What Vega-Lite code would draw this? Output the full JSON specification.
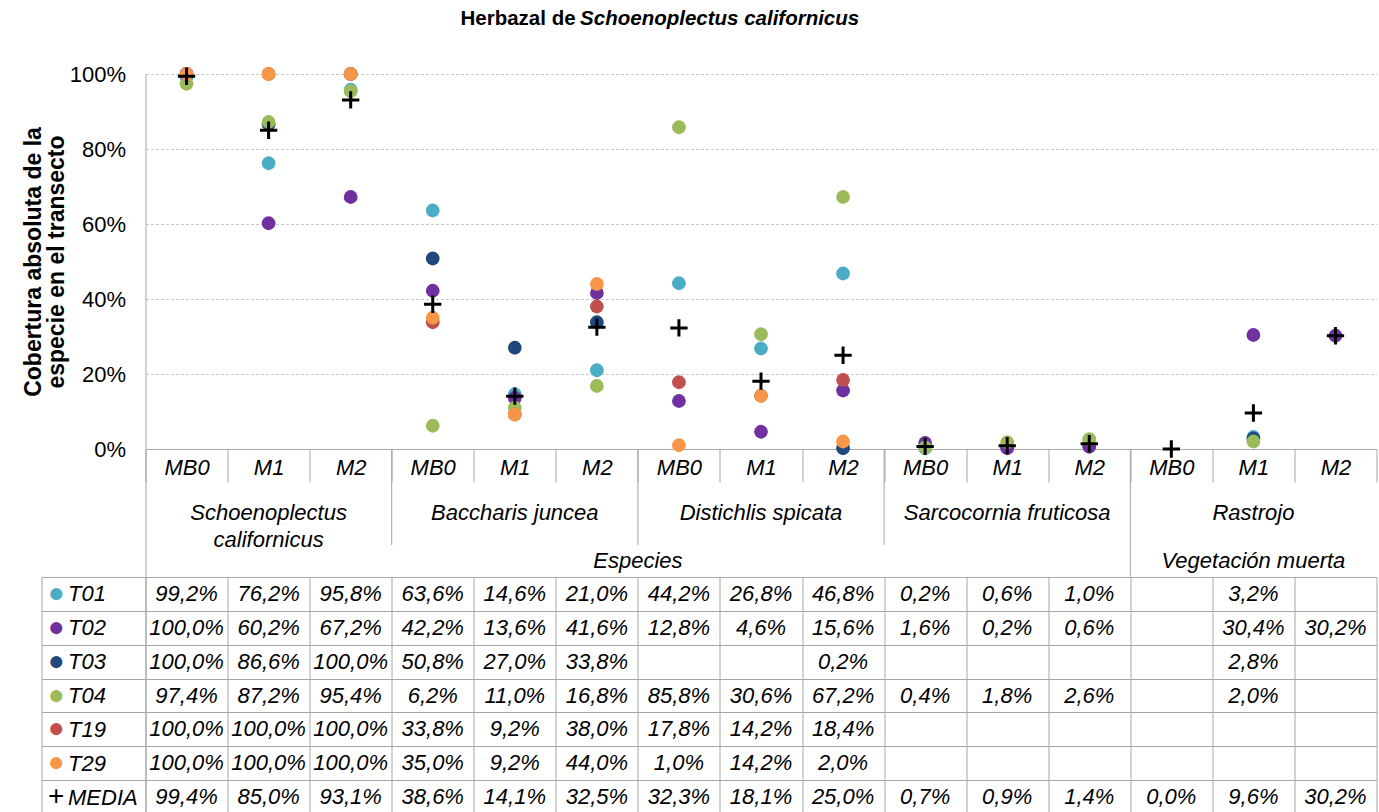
{
  "$schema": "https://vega.github.io/schema/vega-lite/v6.json",
  "usermeta": {"embedOptions": {"actions": false}},
  "padding": {"left": 21.5, "top": 9, "right": 0, "bottom": 0},
  "background": "white",
  "spacing": 0,
  "bounds": "flush",
  "config": {
    "font": "Liberation Sans",
    "view": {"stroke": null},
    "locale": {"number": {"decimal": ",", "thousands": ".", "grouping": [3], "currency": ["", " €"]}},
    "axis": {"domainColor": "#A6A6A6", "tickColor": "#A6A6A6", "gridColor": "#A6A6A6", "labelColor": "black", "labelFont": "Liberation Sans", "titleFont": "Liberation Sans"}
  },
  "datasets": {
    "obs": [
      {"cat": "SC|MB0", "serie": "T01", "valor": 0.992}, {"cat": "SC|M1", "serie": "T01", "valor": 0.762}, {"cat": "SC|M2", "serie": "T01", "valor": 0.958},
      {"cat": "BJ|MB0", "serie": "T01", "valor": 0.636}, {"cat": "BJ|M1", "serie": "T01", "valor": 0.146}, {"cat": "BJ|M2", "serie": "T01", "valor": 0.210},
      {"cat": "DS|MB0", "serie": "T01", "valor": 0.442}, {"cat": "DS|M1", "serie": "T01", "valor": 0.268}, {"cat": "DS|M2", "serie": "T01", "valor": 0.468},
      {"cat": "SF|MB0", "serie": "T01", "valor": 0.002}, {"cat": "SF|M1", "serie": "T01", "valor": 0.006}, {"cat": "SF|M2", "serie": "T01", "valor": 0.010},
      {"cat": "R|M1", "serie": "T01", "valor": 0.032},

      {"cat": "SC|MB0", "serie": "T02", "valor": 1.0}, {"cat": "SC|M1", "serie": "T02", "valor": 0.602}, {"cat": "SC|M2", "serie": "T02", "valor": 0.672},
      {"cat": "BJ|MB0", "serie": "T02", "valor": 0.422}, {"cat": "BJ|M1", "serie": "T02", "valor": 0.136}, {"cat": "BJ|M2", "serie": "T02", "valor": 0.416},
      {"cat": "DS|MB0", "serie": "T02", "valor": 0.128}, {"cat": "DS|M1", "serie": "T02", "valor": 0.046}, {"cat": "DS|M2", "serie": "T02", "valor": 0.156},
      {"cat": "SF|MB0", "serie": "T02", "valor": 0.016}, {"cat": "SF|M1", "serie": "T02", "valor": 0.002}, {"cat": "SF|M2", "serie": "T02", "valor": 0.006},
      {"cat": "R|M1", "serie": "T02", "valor": 0.304}, {"cat": "R|M2", "serie": "T02", "valor": 0.302},

      {"cat": "SC|MB0", "serie": "T03", "valor": 1.0}, {"cat": "SC|M1", "serie": "T03", "valor": 0.866}, {"cat": "SC|M2", "serie": "T03", "valor": 1.0},
      {"cat": "BJ|MB0", "serie": "T03", "valor": 0.508}, {"cat": "BJ|M1", "serie": "T03", "valor": 0.270}, {"cat": "BJ|M2", "serie": "T03", "valor": 0.338},
      {"cat": "DS|M2", "serie": "T03", "valor": 0.002},
      {"cat": "R|M1", "serie": "T03", "valor": 0.028},

      {"cat": "SC|MB0", "serie": "T04", "valor": 0.974}, {"cat": "SC|M1", "serie": "T04", "valor": 0.872}, {"cat": "SC|M2", "serie": "T04", "valor": 0.954},
      {"cat": "BJ|MB0", "serie": "T04", "valor": 0.062}, {"cat": "BJ|M1", "serie": "T04", "valor": 0.110}, {"cat": "BJ|M2", "serie": "T04", "valor": 0.168},
      {"cat": "DS|MB0", "serie": "T04", "valor": 0.858}, {"cat": "DS|M1", "serie": "T04", "valor": 0.306}, {"cat": "DS|M2", "serie": "T04", "valor": 0.672},
      {"cat": "SF|MB0", "serie": "T04", "valor": 0.004}, {"cat": "SF|M1", "serie": "T04", "valor": 0.018}, {"cat": "SF|M2", "serie": "T04", "valor": 0.026},
      {"cat": "R|M1", "serie": "T04", "valor": 0.020},

      {"cat": "SC|MB0", "serie": "T19", "valor": 1.0}, {"cat": "SC|M1", "serie": "T19", "valor": 1.0}, {"cat": "SC|M2", "serie": "T19", "valor": 1.0},
      {"cat": "BJ|MB0", "serie": "T19", "valor": 0.338}, {"cat": "BJ|M1", "serie": "T19", "valor": 0.092}, {"cat": "BJ|M2", "serie": "T19", "valor": 0.380},
      {"cat": "DS|MB0", "serie": "T19", "valor": 0.178}, {"cat": "DS|M1", "serie": "T19", "valor": 0.142}, {"cat": "DS|M2", "serie": "T19", "valor": 0.184},

      {"cat": "SC|MB0", "serie": "T29", "valor": 1.0}, {"cat": "SC|M1", "serie": "T29", "valor": 1.0}, {"cat": "SC|M2", "serie": "T29", "valor": 1.0},
      {"cat": "BJ|MB0", "serie": "T29", "valor": 0.350}, {"cat": "BJ|M1", "serie": "T29", "valor": 0.092}, {"cat": "BJ|M2", "serie": "T29", "valor": 0.440},
      {"cat": "DS|MB0", "serie": "T29", "valor": 0.010}, {"cat": "DS|M1", "serie": "T29", "valor": 0.142}, {"cat": "DS|M2", "serie": "T29", "valor": 0.020},

      {"cat": "SC|MB0", "serie": "MEDIA", "valor": 0.994}, {"cat": "SC|M1", "serie": "MEDIA", "valor": 0.850}, {"cat": "SC|M2", "serie": "MEDIA", "valor": 0.931},
      {"cat": "BJ|MB0", "serie": "MEDIA", "valor": 0.386}, {"cat": "BJ|M1", "serie": "MEDIA", "valor": 0.141}, {"cat": "BJ|M2", "serie": "MEDIA", "valor": 0.325},
      {"cat": "DS|MB0", "serie": "MEDIA", "valor": 0.323}, {"cat": "DS|M1", "serie": "MEDIA", "valor": 0.181}, {"cat": "DS|M2", "serie": "MEDIA", "valor": 0.250},
      {"cat": "SF|MB0", "serie": "MEDIA", "valor": 0.007}, {"cat": "SF|M1", "serie": "MEDIA", "valor": 0.009}, {"cat": "SF|M2", "serie": "MEDIA", "valor": 0.014},
      {"cat": "R|MB0", "serie": "MEDIA", "valor": 0.0}, {"cat": "R|M1", "serie": "MEDIA", "valor": 0.096}, {"cat": "R|M2", "serie": "MEDIA", "valor": 0.302}
    ],
    "grupos": [
      {"etiqueta": "Schoenoplectus\ncalifornicus", "cat": "SC|M1", "nivel": "n3"},
      {"etiqueta": "Baccharis juncea", "cat": "BJ|M1", "nivel": "n3"},
      {"etiqueta": "Distichlis spicata", "cat": "DS|M1", "nivel": "n3"},
      {"etiqueta": "Sarcocornia fruticosa", "cat": "SF|M1", "nivel": "n3"},
      {"etiqueta": "Rastrojo", "cat": "R|M1", "nivel": "n3"},
      {"etiqueta": "Especies", "cat": "DS|MB0", "nivel": "n4"},
      {"etiqueta": "Vegetación muerta", "cat": "R|M1", "nivel": "n4"}
    ],
    "separadores": [
      {"cat": "BJ|MB0", "desde": "n1", "hasta": "n3"},
      {"cat": "DS|MB0", "desde": "n1", "hasta": "n3"},
      {"cat": "SF|MB0", "desde": "n1", "hasta": "n3"},
      {"cat": "R|MB0", "desde": "n1", "hasta": "n4"}
    ]
  },
  "vconcat": [
    {
      "width": 1231,
      "height": 375,
      "title": {
        "text": "Herbazal de",
        "subtitle": "\u200b\u00a0\u00a0\u00a0\u00a0\u00a0\u00a0\u00a0\u00a0\u00a0\u00a0\u00a0\u00a0\u00a0\u00a0\u00a0\u00a0\u00a0\u00a0\u00a0\u00a0\u00a0Schoenoplectus californicus",
        "anchor": "start",
        "frame": "group",
        "dx": 315,
        "font": "Liberation Sans",
        "fontSize": 20.5,
        "fontWeight": "bold",
        "color": "black",
        "subtitleFont": "Liberation Sans",
        "subtitleFontSize": 20.5,
        "subtitleFontWeight": "bold",
        "subtitleFontStyle": "italic",
        "subtitleColor": "black",
        "subtitlePadding": -20.5,
        "offset": 32
      },
      "data": {"name": "obs"},
      "layer": [
        {
          "transform": [{"filter": "datum.serie != 'MEDIA'"}],
          "mark": {"type": "circle", "size": 190, "opacity": 1},
          "encoding": {
            "x": {
              "field": "cat", "type": "nominal",
              "scale": {"type": "band", "domain": ["SC|MB0","SC|M1","SC|M2","BJ|MB0","BJ|M1","BJ|M2","DS|MB0","DS|M1","DS|M2","SF|MB0","SF|M1","SF|M2","R|MB0","R|M1","R|M2"], "paddingInner": 0, "paddingOuter": 0},
              "axis": {"title": null, "labelExpr": "split(datum.value, '|')[1]", "tickBand": "extent", "ticks": true, "tickSize": 33, "labelAngle": 0, "labelFontSize": 22, "labelFontStyle": "italic", "labelBaseline": "middle", "labelPadding": -15, "grid": false, "domain": true}
            },
            "y": {
              "field": "valor", "type": "quantitative",
              "scale": {"domain": [0, 1]},
              "axis": {"title": ["Cobertura absoluta de la", "especie en el transecto"], "titleFontSize": 23, "titleFontWeight": "bold", "titleColor": "black", "titleLineHeight": 23, "titlePadding": 1, "format": ".0%", "values": [0, 0.2, 0.4, 0.6, 0.8, 1], "labelFontSize": 22, "labelPadding": 20, "ticks": false, "grid": true, "gridDash": [3, 2], "gridColor": "#C8C8C8", "domain": true}
            },
            "color": {
              "field": "serie", "type": "nominal",
              "scale": {"domain": ["T01","T02","T03","T04","T19","T29"], "range": ["#4BACC6","#7030A0","#1F497D","#9BBB59","#C0504D","#F79646"]},
              "legend": null
            }
          }
        },
        {
          "transform": [{"filter": "datum.serie == 'MEDIA'"}],
          "mark": {"type": "point", "shape": "M-1,0L1,0M0,-1L0,1", "filled": false, "stroke": "black", "strokeWidth": 3, "size": 300, "opacity": 1},
          "encoding": {
            "x": {"field": "cat", "type": "nominal"},
            "y": {"field": "valor", "type": "quantitative"}
          }
        }
      ]
    },
    {
      "width": 1231,
      "height": 128,
      "layer": [
        {
          "data": {"name": "separadores"},
          "mark": {"type": "rule", "color": "#A6A6A6", "strokeWidth": 1},
          "encoding": {
            "x": {"field": "cat", "type": "nominal", "bandPosition": 0,
                  "scale": {"type": "band", "domain": ["SC|MB0","SC|M1","SC|M2","BJ|MB0","BJ|M1","BJ|M2","DS|MB0","DS|M1","DS|M2","SF|MB0","SF|M1","SF|M2","R|MB0","R|M1","R|M2"], "paddingInner": 0, "paddingOuter": 0},
                  "axis": null},
            "y": {"field": "desde", "type": "nominal", "bandPosition": 0,
                  "scale": {"type": "band", "domain": ["n1","n2","n3","n4"], "paddingInner": 0, "paddingOuter": 0},
                  "axis": {"title": null, "labels": false, "ticks": false, "grid": false, "domain": true}},
            "y2": {"field": "hasta", "bandPosition": 1}
          }
        },
        {
          "data": {"name": "grupos"},
          "transform": [{"filter": "datum.nivel == 'n3'"}],
          "mark": {"type": "text", "fontSize": 22, "fontStyle": "italic", "color": "black", "lineBreak": "\n", "lineHeight": 27, "baseline": "middle"},
          "encoding": {
            "x": {"field": "cat", "type": "nominal", "axis": null},
            "y": {"field": "nivel", "type": "nominal", "bandPosition": 0},
            "text": {"field": "etiqueta"}
          }
        },
        {
          "data": {"name": "grupos"},
          "transform": [{"filter": "datum.nivel == 'n4' && datum.etiqueta == 'Especies'"}],
          "mark": {"type": "text", "fontSize": 22, "fontStyle": "italic", "color": "black", "baseline": "middle"},
          "encoding": {
            "x": {"field": "cat", "type": "nominal", "bandPosition": 0, "axis": null},
            "y": {"field": "nivel", "type": "nominal"},
            "text": {"field": "etiqueta"}
          }
        },
        {
          "data": {"name": "grupos"},
          "transform": [{"filter": "datum.nivel == 'n4' && datum.etiqueta != 'Especies'"}],
          "mark": {"type": "text", "fontSize": 22, "fontStyle": "italic", "color": "black", "baseline": "middle"},
          "encoding": {
            "x": {"field": "cat", "type": "nominal", "axis": null},
            "y": {"field": "nivel", "type": "nominal"},
            "text": {"field": "etiqueta"}
          }
        }
      ]
    },
    {
      "width": 1231,
      "height": 237,
      "data": {"name": "obs"},
      "layer": [
        {
          "mark": {"type": "text", "fontSize": 22, "fontStyle": "italic", "color": "black", "baseline": "middle"},
          "encoding": {
            "x": {"field": "cat", "type": "nominal",
                  "scale": {"type": "band", "domain": ["SC|MB0","SC|M1","SC|M2","BJ|MB0","BJ|M1","BJ|M2","DS|MB0","DS|M1","DS|M2","SF|MB0","SF|M1","SF|M2","R|MB0","R|M1","R|M2"], "paddingInner": 0, "paddingOuter": 0},
                  "axis": {"title": null, "labels": false, "ticks": false, "domain": false, "grid": true, "tickBand": "extent", "gridColor": "#A6A6A6"}},
            "y": {"field": "serie", "type": "nominal",
                  "scale": {"type": "band", "domain": ["T01","T02","T03","T04","T19","T29","MEDIA"], "paddingInner": 0, "paddingOuter": 0},
                  "axis": {"title": null, "orient": "left", "domain": true, "ticks": true, "tickSize": 104, "tickBand": "extent", "grid": true, "gridColor": "#A6A6A6", "labelAlign": "left", "labelBaseline": "middle", "labelPadding": -26, "labelFontSize": 22, "labelFontStyle": "italic", "labelColor": "black"}},
            "text": {"field": "valor", "type": "quantitative", "format": ".1%"}
          }
        },
        {
          "mark": {"type": "text", "text": "", "opacity": 0},
          "encoding": {
            "y": {"field": "serie", "type": "nominal",
                  "axis": {"title": null, "orient": "left", "offset": 104, "domain": true, "ticks": false, "grid": false, "labelAlign": "left", "labelBaseline": "middle", "labelPadding": -6, "labelFontSize": 28,
                           "labelExpr": "datum.value == 'MEDIA' ? '+' : '●'",
                           "labelColor": {"condition": [
                             {"test": "datum.value == 'T01'", "value": "#4BACC6"},
                             {"test": "datum.value == 'T02'", "value": "#7030A0"},
                             {"test": "datum.value == 'T03'", "value": "#1F497D"},
                             {"test": "datum.value == 'T04'", "value": "#9BBB59"},
                             {"test": "datum.value == 'T19'", "value": "#C0504D"},
                             {"test": "datum.value == 'T29'", "value": "#F79646"}
                           ], "value": "black"}}}
          }
        }
      ],
      "resolve": {"axis": {"y": "independent"}}
    }
  ]
}
